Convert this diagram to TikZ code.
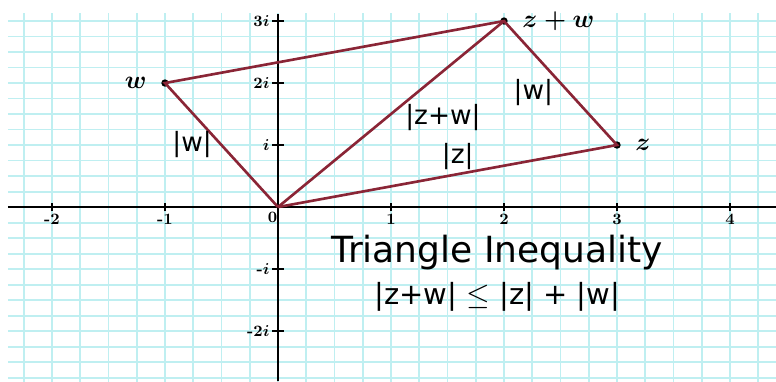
\documentclass[tikz,border=0pt]{standalone}
\usepackage{fontspec}
\setsansfont{DejaVu Sans}
\usetikzlibrary{positioning}
\definecolor{gridcyan}{HTML}{BFEFF1}
\definecolor{sidered}{HTML}{8A2536}

\begin{document}
\begin{tikzpicture}[
  x=2.26cm, y=1.24cm,
  gridline/.style={draw=gridcyan, line width=1.1pt},
  axis/.style={draw=black, line width=1.5pt},
  ticmark/.style={draw=black, line width=1.1pt},
  side/.style={draw=sidered, line width=1.5pt},
  dot/.style={circle, fill=black, inner sep=0pt, minimum size=4.2pt},
  ticlabel/.style={font=\small\bfseries\boldmath, inner sep=1.5pt},
  lenlabel/.style={font=\sffamily\fontsize{15}{18}\selectfont, inner sep=1pt},
  ptlabel/.style={font=\Large\boldmath, inner sep=1pt},
]
\useasboundingbox (-2.460,-2.806) rectangle (4.407,3.339);

% graph paper
\foreach \gx in {-2.25,-2,...,4.3}
  \draw[gridline] (\gx,-2.85) -- (\gx,3.13);
\foreach \gy in {-2.75,-2.5,...,3.1}
  \draw[gridline] (-2.39,\gy) -- (4.41,\gy);

% axes
\draw[axis] (-2.39,0) -- (4.41,0);
\draw[axis] (0,-2.81) -- (0,3.12);

\foreach \t in {-2,-1,1,2,3,4} {
  \draw[ticmark] (\t,-0.07) -- (\t,0.07);
  \node[ticlabel, below] at (\t,-0.06) {\t};
}
\foreach \t/\lbl in {3/3$i$,2/2$i$,1/$i$,-1/-$i$,-2/-2$i$} {
  \draw[ticmark] (-0.05,\t) -- (0.05,\t);
  \node[ticlabel, left] at (-0.05,\t) {\lbl};
}
\node[ticlabel, below left] (zero) at (0.02,-0.04) {0};

% points
\coordinate (o) at (0,0);
\node[dot] (w) at (-1,2) {};
\node[dot] (z) at (3,1) {};
\node[dot] (zw) at (2,3) {};

\draw[side] (o) -- (w.center) -- (zw.center) -- (z.center) -- (o);
\draw[side] (o) -- (zw.center);

\node[ptlabel, left=7pt of w] (wlbl) {$w$};
\node[ptlabel, right=7pt of zw] (zwlbl) {$z + w$};
\node[ptlabel, right=7pt of z] (zlbl) {$z$};

% side lengths
\node[lenlabel] (lw) at (-0.76,1.0) {|w|};
\node[lenlabel] (lzw) at (1.46,1.44) {|z+w|};
\node[lenlabel] (lw2) at (2.26,1.84) {|w|};
\node[lenlabel] (lz) at (1.59,0.81) {|z|};

\node[font=\sffamily\fontsize{20.5}{24}\selectfont] (title) at (1.94,-0.73) {Triangle Inequality};
\node[font=\sffamily\fontsize{16.5}{20}\selectfont] (ineq) at (1.94,-1.45) {|z+w| $\leq$ |z| + |w|};

\end{tikzpicture}
\end{document}
